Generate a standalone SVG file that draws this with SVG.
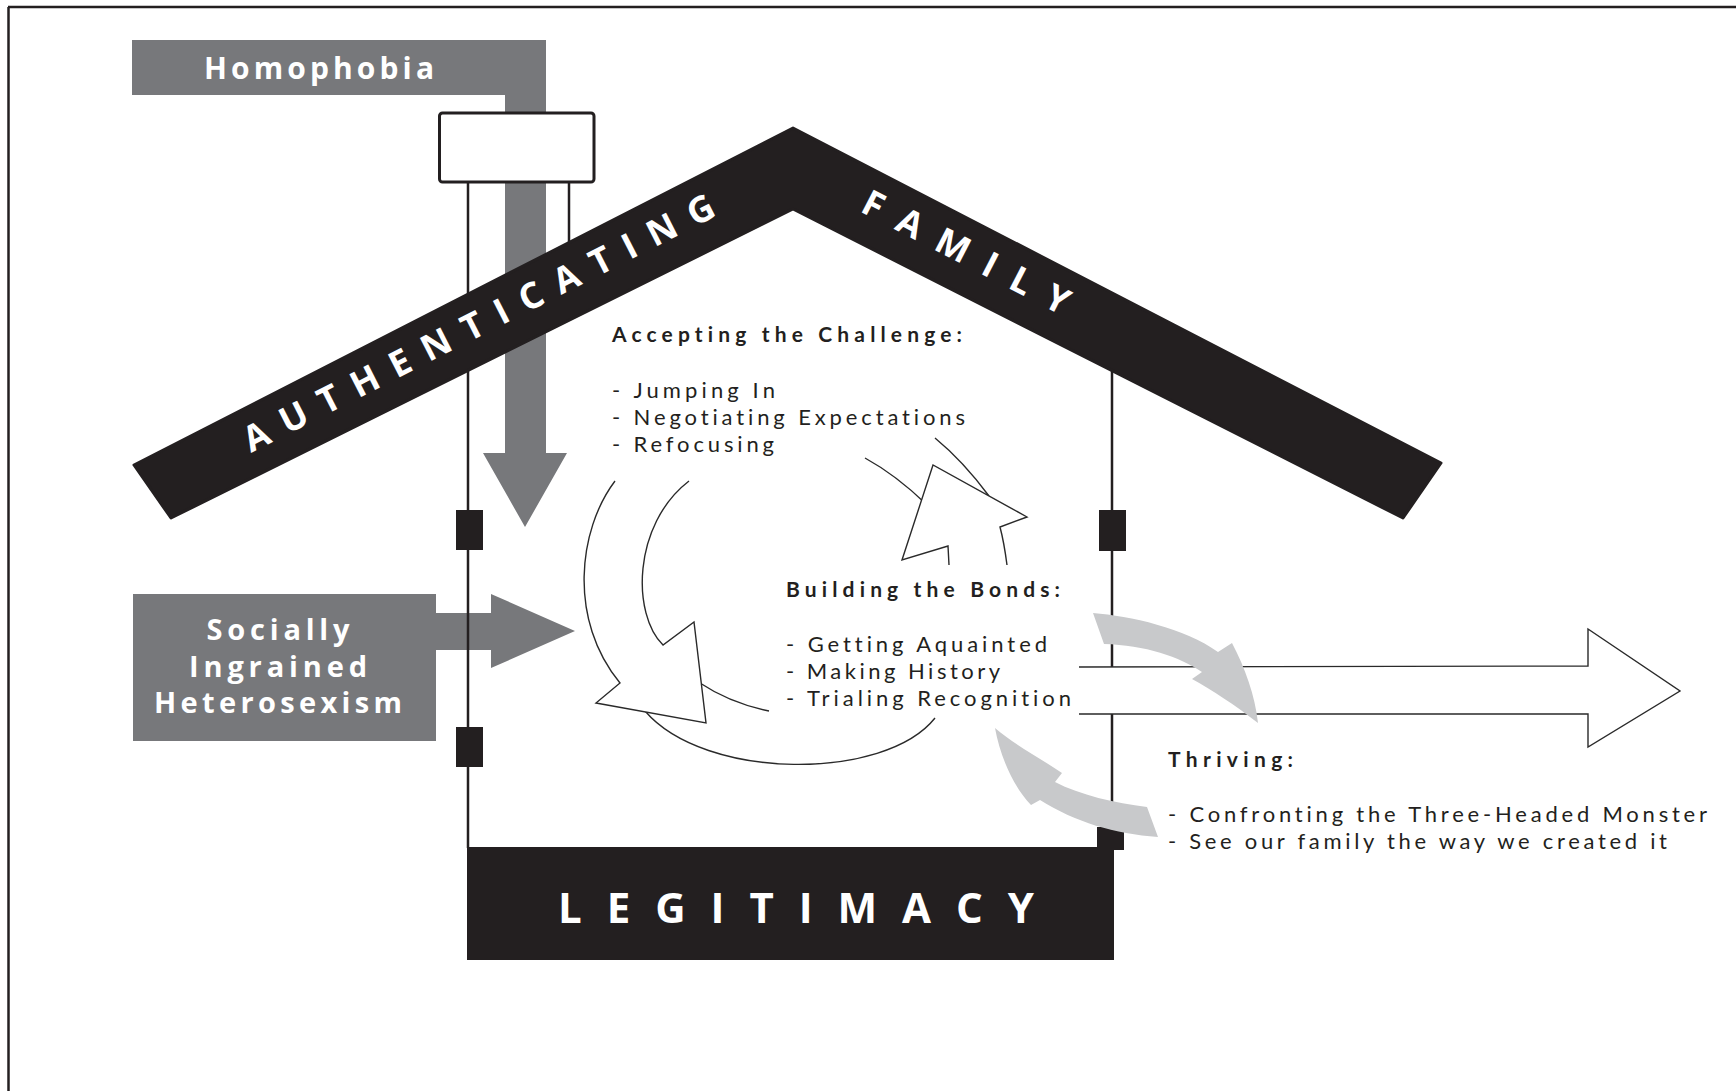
<svg xmlns="http://www.w3.org/2000/svg" width="1736" height="1091" viewBox="0 0 1736 1091">
  <defs>
    <style>
      .ink { fill: #231f20; }
      .gray { fill: #77787b; }
      .soft { fill: #c8c9cb; }
      .line { fill: none; stroke: #231f20; stroke-width: 2.5; }
      .thin { fill: none; stroke: #2a2a2a; stroke-width: 1.4; stroke-linejoin: miter; }
      .hollow { fill: #ffffff; stroke: #2a2a2a; stroke-width: 1.4; stroke-linejoin: miter; }
      .lbl-w { font-family: "Open Sans", "Liberation Sans", sans-serif; font-weight: 700; fill: #ffffff; }
      .head, .item { font-family: Lato, "Liberation Sans", sans-serif; fill: #231f20;
                     font-variant-ligatures: none; font-feature-settings: "liga" 0, "clig" 0; }
      .head { font-weight: 700; font-size: 21px; }
      .item { font-weight: 400; font-size: 22px; }
    </style>
  </defs>

  <!-- frame -->
  <g id="frame">
    <line x1="8" y1="7" x2="1736" y2="7" class="line"/>
    <line x1="8.5" y1="7" x2="8.5" y2="1091" class="line"/>
  </g>

  <!-- Homophobia: bar running into the chimney and down into the house -->
  <g id="homophobia">
    <path class="gray" d="M132,40 H546 V453 H567 L525,527 L483,453 H505 V95 H132 Z"/>
    <text class="lbl-w" x="204" y="79" font-size="30" textLength="230" lengthAdjust="spacing">Homophobia</text>
  </g>

  <!-- Socially ingrained heterosexism: block with arrow through the wall -->
  <g id="heterosexism">
    <path class="gray" d="M133,594 H436 V613 H491 V594 L575,631 L491,668 V650 H436 V741 H133 Z"/>
    <text class="lbl-w" x="278" y="640" font-size="29" text-anchor="middle" textLength="143" lengthAdjust="spacing">Socially</text>
    <text class="lbl-w" x="278" y="677" font-size="29" text-anchor="middle" textLength="178" lengthAdjust="spacing">Ingrained</text>
    <text class="lbl-w" x="278" y="713" font-size="29" text-anchor="middle" textLength="248" lengthAdjust="spacing">Heterosexism</text>
  </g>

  <!-- house walls and chimney -->
  <g id="house">
    <line x1="468" y1="182" x2="468" y2="848" class="line"/>
    <line x1="569" y1="182" x2="569" y2="260" class="line"/>
    <rect x="439.5" y="113" width="154.5" height="69" rx="3" fill="#ffffff" stroke="#231f20" stroke-width="3"/>
    <line x1="1112" y1="360" x2="1112" y2="848" class="line"/>
    <rect class="ink" x="456" y="510" width="27" height="40"/>
    <rect class="ink" x="456" y="727" width="27" height="40"/>
    <rect class="ink" x="1099" y="510" width="27" height="41"/>
    <rect class="ink" x="1097" y="827" width="27" height="23"/>
  </g>

  <!-- roof band -->
  <g id="roof">
    <path class="ink" stroke="#231f20" stroke-width="3" stroke-linejoin="round"
          d="M134,465 L793,128 L1441,463 L1403,518 L793,209 L171,518 Z"/>
    <text class="lbl-w" x="251" y="453" font-size="36" transform="rotate(-27 251 453)" textLength="524" lengthAdjust="spacing">AUTHENTICATING</text>
    <text class="lbl-w" x="859" y="211" font-size="36" transform="rotate(27.3 859 211)" textLength="228" lengthAdjust="spacing">FAMILY</text>
  </g>

  <!-- foundation -->
  <g id="legitimacy">
    <rect class="ink" x="467" y="847" width="647" height="113"/>
    <text class="lbl-w" x="558" y="923" font-size="42" textLength="476" lengthAdjust="spacing">LEGITIMACY</text>
  </g>

  <g id="connectors">
    <!-- cycle: band along the bottom, passing behind the left arrowhead -->
    <path class="thin" d="M645,711 C705,781 885,781 935,718"/>
    <path class="thin" d="M700,683 Q730,703 769,711"/>
    <!-- cycle: left arrow sweeping down -->
    <path class="hollow" d="M615,481 C578,530 568,620 620,683 L596,703 L706,723 L694,622 L663,645 C632,615 632,525 689,481"/>
    <!-- cycle: band at the top right, passing behind the upward arrowhead -->
    <path class="thin" d="M935,438 Q963,461 989,496"/>
    <path class="thin" d="M865,458 Q896,475 926,504"/>
    <path class="hollow" d="M949,565 L948,546 L902,560 L933,465 L1027,517 L1000,527 Q1004,542 1007,565"/>

    <!-- outward arrow toward thriving -->
    <path d="M1079,667 H1588 V629 L1680,691 L1588,747 V714 H1079 Z" fill="#ffffff"/>
    <path class="thin" d="M1079,667 L1588,666 V629 L1680,691 L1588,747 V714 H1079"/>

    <!-- exchange arrows between bonds and thriving -->
    <path class="soft" d="M1093,613 C1130,616 1185,628 1218,652 L1232,643 C1245,668 1255,695 1258,723 C1235,705 1212,690 1192,679 L1202,672 C1180,657 1145,645 1104,644 Z"/>
    <path class="soft" d="M995,728 C1000,755 1012,785 1031,805 L1040,800 C1075,822 1115,834 1158,837 L1147,807 C1115,803 1080,795 1055,782 L1062,773 C1040,758 1015,745 995,728 Z"/>
  </g>

  <!-- stage labels -->
  <g id="accepting">
    <text class="head" x="612" y="341.5" textLength="350" lengthAdjust="spacing">Accepting the Challenge:</text>
    <text class="item" x="612" y="397.5" textLength="163" lengthAdjust="spacing">- Jumping In</text>
    <text class="item" x="612" y="425" textLength="353" lengthAdjust="spacing">- Negotiating Expectations</text>
    <text class="item" x="612" y="451.5" textLength="162" lengthAdjust="spacing">- Refocusing</text>
  </g>
  <g id="building">
    <text class="head" x="786" y="597" textLength="274" lengthAdjust="spacing">Building the Bonds:</text>
    <text class="item" x="786" y="652" textLength="261" lengthAdjust="spacing">- Getting Aquainted</text>
    <text class="item" x="786" y="679" textLength="214" lengthAdjust="spacing">- Making History</text>
    <text class="item" x="786" y="706" textLength="285" lengthAdjust="spacing">- Trialing Recognition</text>
  </g>
  <g id="thriving">
    <text class="head" x="1168" y="767" textLength="125" lengthAdjust="spacing">Thriving:</text>
    <text class="item" x="1168" y="822" textLength="539" lengthAdjust="spacing">- Confronting the Three-Headed Monster</text>
    <text class="item" x="1168" y="849" textLength="499" lengthAdjust="spacing">- See our family the way we created it</text>
  </g>
</svg>
